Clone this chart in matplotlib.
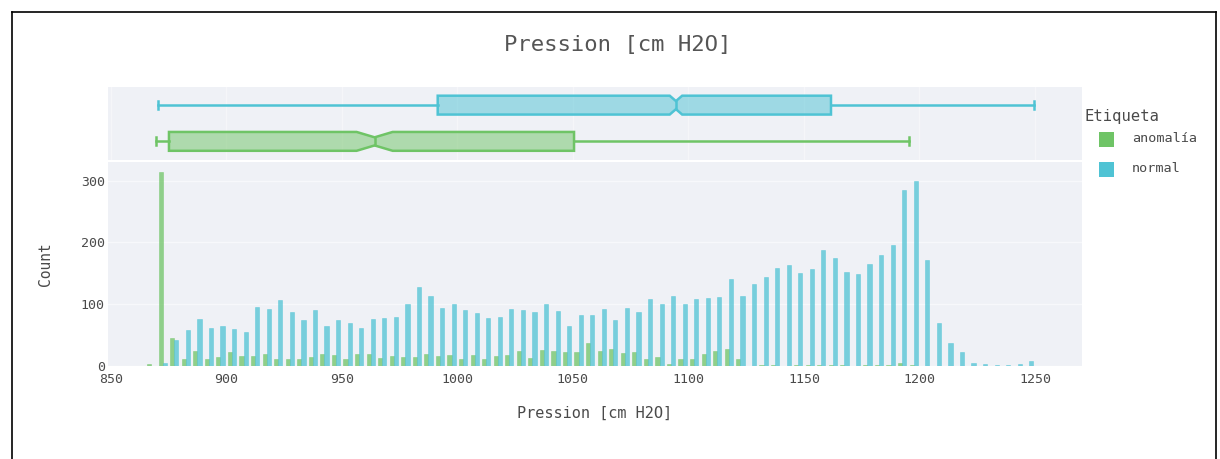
import numpy as np
import matplotlib.pyplot as plt
from matplotlib.patches import Polygon, Rectangle
from matplotlib.lines import Line2D

## Histogram counts, 5 cm H2O bins starting at 865
bin_start = 865
bin_width = 5
anomalia = [4, 314, 45, 12, 24, 11, 15, 22, 16, 16, 20, 11, 11, 12, 14, 19, 18, 12,
            19, 20, 13, 16, 15, 15, 19, 16, 18, 12, 18, 11, 16, 18, 24, 13, 26, 25,
            23, 22, 37, 24, 28, 21, 23, 12, 15, 3, 12, 11, 20, 24, 28, 12, 0, 2,
            2, 0, 1, 1, 1, 1, 1, 0, 2, 2, 2, 5, 1, 0, 0, 0, 0, 0, 0, 0, 0, 0, 0]
normal = [0, 5, 42, 58, 76, 62, 65, 60, 55, 96, 92, 106, 88, 74, 90, 64, 74, 70,
          62, 76, 77, 80, 100, 127, 113, 94, 100, 91, 86, 78, 79, 93, 91, 88, 100, 89,
          65, 83, 83, 93, 75, 94, 87, 108, 100, 114, 100, 108, 110, 111, 141, 114, 132, 144,
          158, 164, 151, 157, 187, 174, 152, 149, 165, 179, 195, 284, 299, 171, 70, 38, 23, 5,
          3, 2, 2, 3, 8]

## Box stats: lower whisker, q1, median, q3, upper whisker
box_anomalia = [869.6, 875.2, 964.2, 1050.5, 1195.4]
notch_anomalia = 7.8
box_normal = [870.3, 991.5, 1094.6, 1161.7, 1249.5]
notch_normal = 2.7

x_ticks = [850, 900, 950, 1000, 1050, 1100, 1150, 1200, 1250]
y_ticks = [0, 100, 200, 300]

green = '#6fc466'
blue = '#4fc3d4'
bg = '#eff1f6'
txt = '#4a4a4a'
mono = 'DejaVu Sans Mono'
plt.rcParams['font.family'] = mono

W, H = 1220, 459
fig = plt.figure(figsize=(W / 100, H / 100), dpi=100)

def fx(px):
    return px / W

def fy(py):
    return 1 - py / H

left, right = 107.5, 1081.7
ax = fig.add_axes([fx(left), fy(366), fx(right - left), fy(162) - fy(366)])
axb = fig.add_axes([fx(left), fy(159.5), fx(right - left), fy(87) - fy(159.5)], sharex=ax)

# histogram bars (grouped)
edges = bin_start + bin_width * np.arange(len(normal))
bw = 1.8
ax.bar(edges + 0.7, anomalia, width=bw, align='edge', color=green, alpha=0.75,
       edgecolor=green, linewidth=0.4, zorder=3)
ax.bar(edges + 0.7 + bw, normal, width=bw, align='edge', color=blue, alpha=0.75,
       edgecolor=blue, linewidth=0.4, zorder=3)

ax.set_facecolor(bg)
ax.set_xlim(848.6, 1270.2)
ax.set_ylim(0, 330)
ax.set_xticks(x_ticks)
ax.set_yticks(y_ticks)
ax.grid(axis='y', color='#f7f8fb', linewidth=1, zorder=0)
ax.tick_params(length=0, labelsize=9.5, colors=txt)
ax.tick_params(axis='x', pad=5)
ax.tick_params(axis='y', pad=2)
for s in ax.spines.values():
    s.set_visible(False)
ax.set_xlabel('Pression [cm H2O]', fontsize=11, color=txt, labelpad=14)
ax.set_ylabel('Count', fontsize=10.5, color=txt, labelpad=20)

# marginal notched boxes
def notched_box(a, y, stats, notch, color):
    lo, q1, med, q3, hi = stats
    h = 0.26
    hi_n = 0.43 * h
    pts = [(q1, y - h), (med - notch, y - h), (med, y - hi_n), (med + notch, y - h),
           (q3, y - h), (q3, y + h), (med + notch, y + h), (med, y + hi_n),
           (med - notch, y + h), (q1, y + h)]
    a.add_patch(Polygon(pts, closed=True, facecolor=color, alpha=0.5, edgecolor='none', zorder=3))
    a.add_patch(Polygon(pts, closed=True, facecolor='none', edgecolor=color, linewidth=1.8, zorder=4))
    a.plot([med, med], [y - hi_n, y + hi_n], color=color, linewidth=1.8, zorder=4)
    a.plot([lo, q1], [y, y], color=color, linewidth=1.8, zorder=4)
    a.plot([q3, hi], [y, y], color=color, linewidth=1.8, zorder=4)
    for wx in (lo, hi):
        a.plot([wx, wx], [y - 0.11, y + 0.11], color=color, linewidth=1.8, zorder=4)

notched_box(axb, 0, box_anomalia, notch_anomalia, green)
notched_box(axb, 1, box_normal, notch_normal, blue)
axb.set_ylim(-0.5, 1.5)
axb.set_facecolor(bg)
axb.grid(axis='x', color='#f5f6f9', linewidth=1, zorder=0)
axb.set_yticks([])
axb.tick_params(length=0, labelbottom=False)
for s in axb.spines.values():
    s.set_visible(False)

fig.text(0.5 + fx(8), fy(45), 'Pression [cm H2O]', ha='center', va='center',
         fontsize=16, color='#555555')

# legend
fig.text(fx(1084), fy(116), 'Etiqueta', ha='left', va='center', fontsize=11.2, color=txt)
for lab, col, yy in [('anomalía', green, 139), ('normal', blue, 169)]:
    fig.patches.append(Rectangle((fx(1099), fy(yy + 7.5)), fx(15), fy(yy - 7.5) - fy(yy + 7.5),
                                 transform=fig.transFigure, facecolor=col, edgecolor='none'))
    fig.text(fx(1132), fy(yy), lab, ha='left', va='center', fontsize=9.7, color=txt)

# screenshot frame
fig.add_artist(Line2D([fx(12), fx(12)], [0, fy(12)], color='black', linewidth=1.2))
fig.add_artist(Line2D([fx(12), fx(1216)], [fy(12), fy(12)], color='black', linewidth=1.2))
fig.add_artist(Line2D([fx(1216), fx(1216)], [0, fy(12)], color='black', linewidth=1.2))

fig.savefig('out.png', dpi=100)
